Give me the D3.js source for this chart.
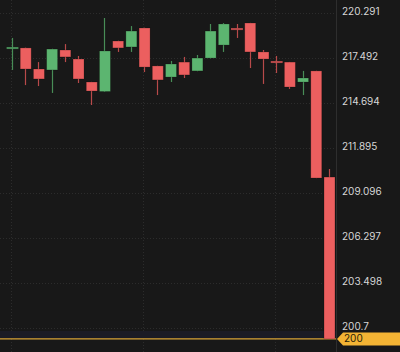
<!DOCTYPE html>
<html>
<head>
<meta charset="utf-8">
<script src="https://cdn.jsdelivr.net/npm/d3@7"></script>
<style>
  html, body { margin: 0; padding: 0; background: #181818; }
  svg { display: block; }
</style>
</head>
<body>
<div id="chart"></div>
<script>
// OHLC values, oldest candle first
const opens  = [218.06, 218.10, 216.79, 216.73, 217.97, 217.41, 215.98, 215.39, 218.53, 218.16,
                219.34, 216.98, 216.29, 217.22, 216.67, 217.47, 218.28, 219.31, 219.65, 217.85,
                217.26, 217.22, 215.98, 216.67, 210.07];
const highs  = [218.72, 218.12, 217.22, 218.05, 218.34, 217.60, 215.99, 219.96, 218.55, 219.46,
                219.36, 216.99, 217.29, 217.54, 217.66, 219.59, 219.65, 219.59, 219.66, 217.97,
                217.60, 217.23, 216.67, 216.68, 210.57];
const lows   = [216.73, 215.79, 215.73, 215.30, 217.22, 215.92, 214.55, 215.37, 217.85, 217.85,
                216.60, 215.17, 215.98, 216.23, 216.65, 217.45, 217.85, 218.72, 216.85, 215.86,
                216.54, 215.55, 215.17, 210.00, 200.00];
const closes = [218.13, 216.79, 216.17, 218.03, 217.54, 216.17, 215.42, 217.91, 218.10, 219.15,
                216.91, 216.11, 217.10, 216.42, 217.47, 219.15, 219.59, 219.25, 217.85, 217.41,
                217.19, 215.67, 216.23, 210.01, 200.00];

const priceTicks = [200.7, 203.498, 206.297, 209.096, 211.895, 214.694, 217.492, 220.291];
const tickLabels = ["200.7", "203.498", "206.297", "209.096", "211.895", "214.694", "217.492", "220.291"];
const gridCandles = [0, 10, 20];
const lastPrice = 200;

const width = 400;
const height = 352;
const axisX = 336;

const candles = opens.map((o, i) => ({ i, o, h: highs[i], l: lows[i], c: closes[i] }));

const svg = d3.select("#chart")
    .append("svg")
    .attr("width", width)
    .attr("height", height);

svg.append("rect")
    .attr("width", width)
    .attr("height", height)
    .attr("fill", "#181818");

// Scales
const x = d3.scalePoint()
    .domain(candles.map(d => d.i))
    .range([5.4, 335.6])
    .padding(0.5);

const y = d3.scaleLinear()
    .domain([200.7, 220.291])
    .range([327.7, 12.7]);

const bodyW = x.step() * 0.83;

const red = "#ec5f5f";
const green = "#5cb570";
const color = d => d.c >= d.o ? green : red;

// Grid
svg.append("g")
    .selectAll("line")
    .data(priceTicks)
    .join("line")
    .attr("x1", 0)
    .attr("x2", axisX)
    .attr("y1", d => Math.round(y(d)) + 0.5)
    .attr("y2", d => Math.round(y(d)) + 0.5)
    .attr("stroke", "#2c2c2c")
    .attr("stroke-dasharray", "1,2");

svg.append("g")
    .selectAll("line")
    .data(gridCandles)
    .join("line")
    .attr("x1", d => Math.round(x(d)) - 0.5)
    .attr("x2", d => Math.round(x(d)) - 0.5)
    .attr("y1", 0)
    .attr("y2", height)
    .attr("stroke", "#2c2c2c")
    .attr("stroke-dasharray", "1,2");

// faint band above the last price line
svg.append("rect")
    .attr("x", 0)
    .attr("y", y(lastPrice) - 8)
    .attr("width", axisX)
    .attr("height", 7)
    .attr("fill", "#1b1b25");

// Axis separator
svg.append("line")
    .attr("x1", axisX + 0.5)
    .attr("x2", axisX + 0.5)
    .attr("y1", 0)
    .attr("y2", height)
    .attr("stroke", "#2e2e2e");

// Last price line
svg.append("line")
    .attr("x1", 0)
    .attr("x2", axisX)
    .attr("y1", y(lastPrice))
    .attr("y2", y(lastPrice))
    .attr("stroke", "#d9a338")
    .attr("stroke-width", 1.2);

// Candles
const g = svg.append("g");

g.selectAll("line.wick")
    .data(candles)
    .join("line")
    .attr("class", "wick")
    .attr("x1", d => Math.round(x(d.i)) + 0.5)
    .attr("x2", d => Math.round(x(d.i)) + 0.5)
    .attr("y1", d => y(d.h))
    .attr("y2", d => y(d.l))
    .attr("stroke", d => d3.color(color(d)).darker(0.7))
    .attr("stroke-width", 1.2);

g.selectAll("rect.body")
    .data(candles)
    .join("rect")
    .attr("class", "body")
    .attr("x", d => x(d.i) - bodyW / 2 + 0.5)
    .attr("width", bodyW)
    .attr("y", d => y(Math.max(d.o, d.c)))
    .attr("height", d => Math.max(1.2, Math.abs(y(d.o) - y(d.c))))
    .attr("fill", d => color(d))
    .attr("stroke", d => Math.abs(y(d.o) - y(d.c)) < 2 ? d3.color(color(d)).darker(0.7) : "#000")
    .attr("stroke-opacity", d => Math.abs(y(d.o) - y(d.c)) < 2 ? 1 : 0.25)
    .attr("stroke-width", 0.8);

// Price axis labels
svg.append("g")
    .selectAll("text")
    .data(priceTicks)
    .join("text")
    .attr("x", axisX + 6)
    .attr("y", d => y(d) - 1)
    .attr("dy", "0.35em")
    .attr("fill", "#d6d6d6")
    .style("font-family", "Inter, 'Liberation Sans', sans-serif")
    .style("font-size", "10px")
    .text((d, i) => tickLabels[i]);

// Last price tag
const tagY = y(lastPrice);
svg.append("path")
    .attr("d", `M${axisX + 1},${tagY} L${axisX + 7},${tagY - 6.5} L${width},${tagY - 6.5} L${width},${tagY + 6.5} L${axisX + 7},${tagY + 6.5} Z`)
    .attr("fill", "#f4b434");

svg.append("text")
    .attr("x", axisX + 8)
    .attr("y", tagY)
    .attr("dy", "0.35em")
    .attr("fill", "#2a1f08")
    .style("font-family", "Inter, 'Liberation Sans', sans-serif")
    .style("font-size", "10px")
    .text(lastPrice);
</script>
</body>
</html>
